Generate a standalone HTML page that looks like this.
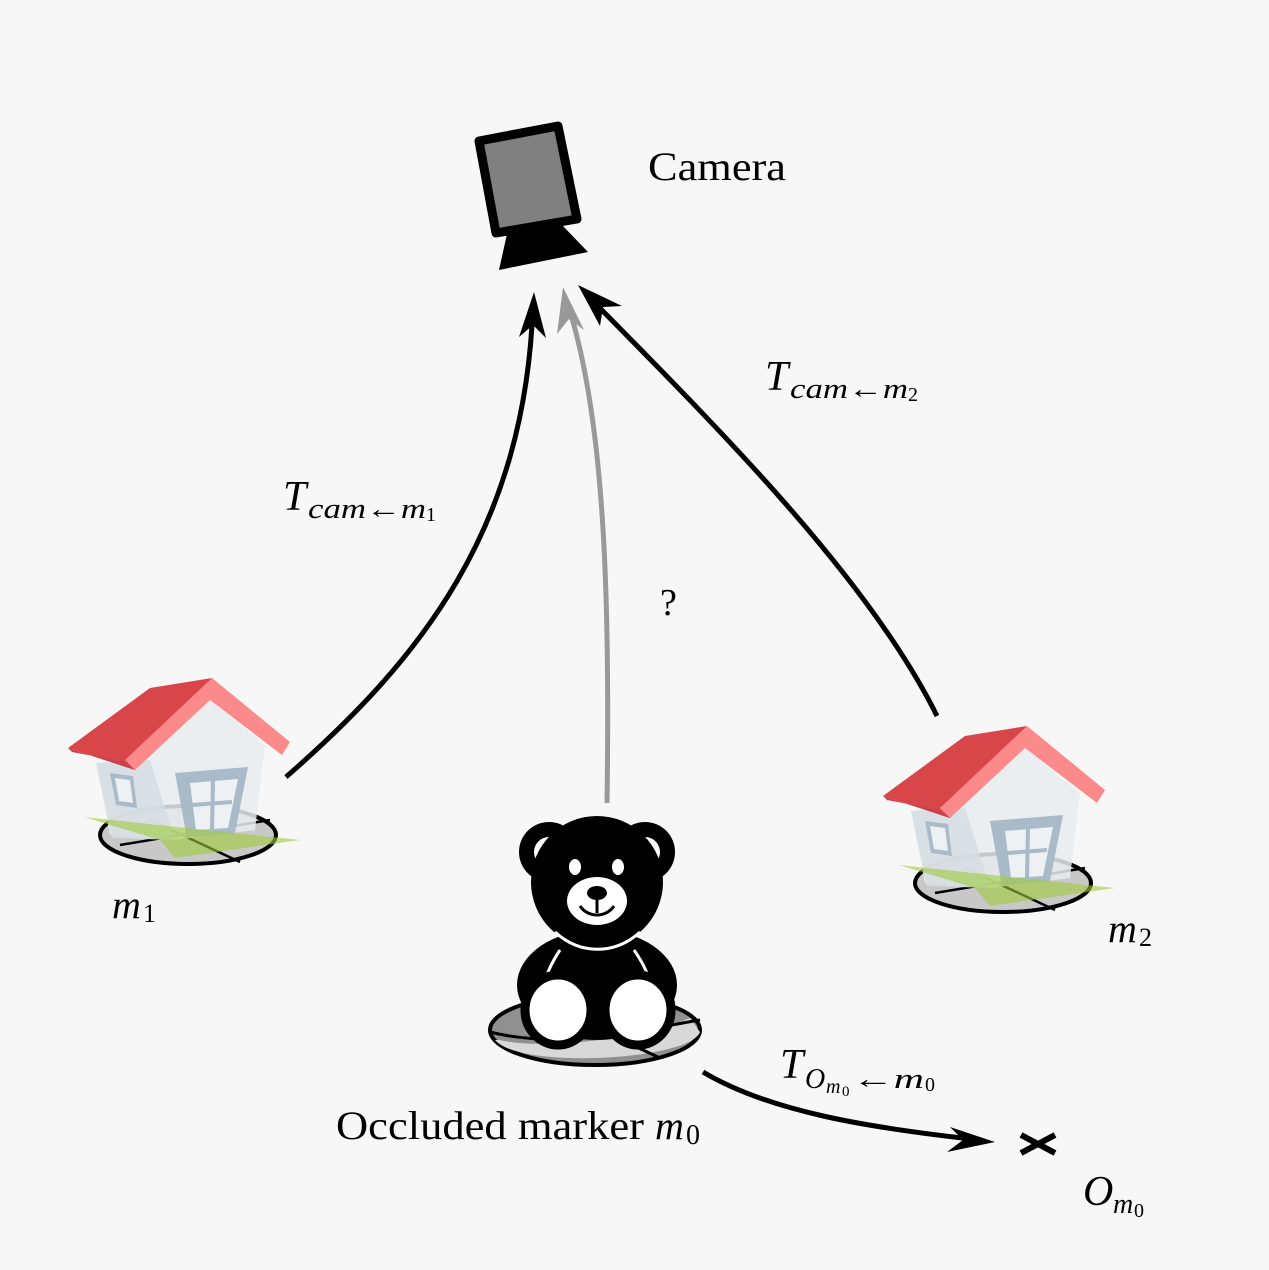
<!DOCTYPE html>
<html><head><style>html,body{margin:0;padding:0;background:#f7f7f7}svg{display:block}text{font-family:"Liberation Serif",serif}</style></head><body>
<svg width="1269" height="1270" viewBox="0 0 1269 1270" xmlns="http://www.w3.org/2000/svg">
<rect width="1269" height="1270" fill="#f7f7f7"/>
<polygon points="479,141 558,126 577,219 496,233" fill="#808080" stroke="#000" stroke-width="9" stroke-linejoin="round"/>
<polygon points="507,234 561,224 588,252 499,270" fill="#000"/>
<text x="648" y="180" font-size="40" textLength="138" lengthAdjust="spacingAndGlyphs">Camera</text>
<path d="M286,777 C420,660 525,530 533,305" fill="none" stroke="#000" stroke-width="5"/>
<path d="M534,292 L546,338 L533,325 L519,337 Z" fill="#000"/>
<path d="M607,803 C610,600 605,420 568,305" fill="none" stroke="#999" stroke-width="5"/>
<path d="M563,287 L584,330 L569,319 L557,334 Z" fill="#999"/>
<path d="M937,716 C870,580 720,430 590,298" fill="none" stroke="#000" stroke-width="5"/>
<path d="M578,285 L622,306 L603,307 L600,326 Z" fill="#000"/>
<path d="M703,1072 C770,1112 870,1128 980,1140" fill="none" stroke="#000" stroke-width="5"/>
<path d="M995,1142 L950,1127 L963,1140 L947,1152 Z" fill="#000"/>
<path d="M1021,1135 L1055,1153 M1021,1153 L1055,1135" stroke="#000" stroke-width="6"/>
<text x="283" y="510" font-size="42" font-style="italic">T</text>
<text x="308" y="518" font-size="28" font-style="italic" textLength="118" lengthAdjust="spacingAndGlyphs">cam←m</text>
<text x="426" y="521" font-size="20">1</text>
<text x="765" y="390" font-size="42" font-style="italic">T</text>
<text x="790" y="398" font-size="28" font-style="italic" textLength="118" lengthAdjust="spacingAndGlyphs">cam←m</text>
<text x="908" y="401" font-size="20">2</text>
<text x="660" y="615" font-size="38">?</text>
<text x="112" y="918" font-size="40" font-style="italic">m</text><text x="143" y="922" font-size="26">1</text>
<text x="1108" y="942" font-size="40" font-style="italic">m</text><text x="1139" y="946" font-size="26">2</text>
<text x="336" y="1139" font-size="40" textLength="308" lengthAdjust="spacingAndGlyphs">Occluded marker</text>
<text x="655" y="1139" font-size="40" font-style="italic">m</text><text x="686" y="1144" font-size="28">0</text>
<text x="780" y="1078" font-size="42" font-style="italic">T</text>
<text x="805" y="1088" font-size="28" font-style="italic">O</text>
<text x="826" y="1093" font-size="20" font-style="italic">m</text><text x="842" y="1096" font-size="15">0</text>
<text x="852" y="1088" font-size="28" font-style="italic" textLength="72" lengthAdjust="spacingAndGlyphs">←m</text>
<text x="925" y="1091" font-size="20">0</text>
<text x="1083" y="1205" font-size="42" font-style="italic">O</text>
<text x="1113" y="1213" font-size="28" font-style="italic">m</text><text x="1134" y="1217" font-size="20">0</text>
<g id="h1">
<ellipse cx="188" cy="835" rx="88" ry="29" fill="#c8c8c8" stroke="#000" stroke-width="4"/>
<path d="M120,845 L270,820 M150,820 L240,862" stroke="#000" stroke-width="2.5"/>
<polygon points="96,763 150,755 210,700 265,745 255,830 175,840 110,835" fill="#e8ecef" opacity="0.85"/>
<polygon points="96,763 150,760 175,840 112,838" fill="#d5dde4" opacity="0.85"/>
<polygon points="175,773 248,767 235,833 187,838" fill="#a9bac8"/>
<polygon points="190,783 238,779 228,828 196,830" fill="#eef1f3"/>
<path d="M213,780 L212,830 M192,805 L232,802" stroke="#a9bac8" stroke-width="4"/>
<polygon points="110,773 133,776 137,808 116,805" fill="#a9bac8"/>
<polygon points="115,778 130,780 133,803 119,801" fill="#eef1f3"/>
<polygon points="84,817 300,840 175,858 160,840" fill="#9fcc3b" opacity="0.6"/>
<polygon points="68,748 150,688 212,678 135,770" fill="#d8464a"/>
<polygon points="212,678 290,742 282,755 210,700 135,770 125,760" fill="#fd8a8b"/>
<polygon points="68,748 135,770 125,762 72,752" fill="#c9424a"/>
</g>
<use href="#h1" transform="translate(815,48)"/>
<ellipse cx="595" cy="1030" rx="105" ry="35" fill="#909090" stroke="#000" stroke-width="4"/>
<path d="M500,1040 C540,1050 640,1040 690,1018 L700,1032 C690,1060 520,1070 495,1040 Z" fill="#d8d8d8"/>
<path d="M490,1032 C560,1050 640,1030 700,1020 M600,1030 L660,1058" stroke="#000" stroke-width="3" fill="none"/>
<circle cx="549" cy="852" r="30" fill="#000"/><circle cx="549" cy="852" r="15" fill="#fff"/>
<circle cx="645" cy="852" r="30" fill="#000"/><circle cx="645" cy="852" r="15" fill="#fff"/>
<ellipse cx="597" cy="985" rx="80" ry="55" fill="#000"/>
<path d="M560,950 C540,980 540,1000 548,1020 M634,950 C655,980 655,1000 646,1020" stroke="#fff" stroke-width="3" fill="none"/>
<circle cx="597" cy="882" r="66" fill="#000"/>
<path d="M555,932 C580,955 615,955 640,932" stroke="#fff" stroke-width="3" fill="none"/>
<ellipse cx="575" cy="867" rx="6" ry="8" fill="#fff"/><ellipse cx="618" cy="867" rx="6" ry="8" fill="#fff"/>
<ellipse cx="597" cy="901" rx="30" ry="24" fill="#fff"/>
<ellipse cx="597" cy="893" rx="10" ry="7" fill="#000"/>
<path d="M597,898 L597,913 M580,906 C588,918 606,918 614,906" stroke="#000" stroke-width="3" fill="none"/>
<ellipse cx="558" cy="1010" rx="33" ry="35" fill="#fff" stroke="#000" stroke-width="9"/>
<ellipse cx="638" cy="1010" rx="33" ry="35" fill="#fff" stroke="#000" stroke-width="9"/>
</svg>
</body></html>
